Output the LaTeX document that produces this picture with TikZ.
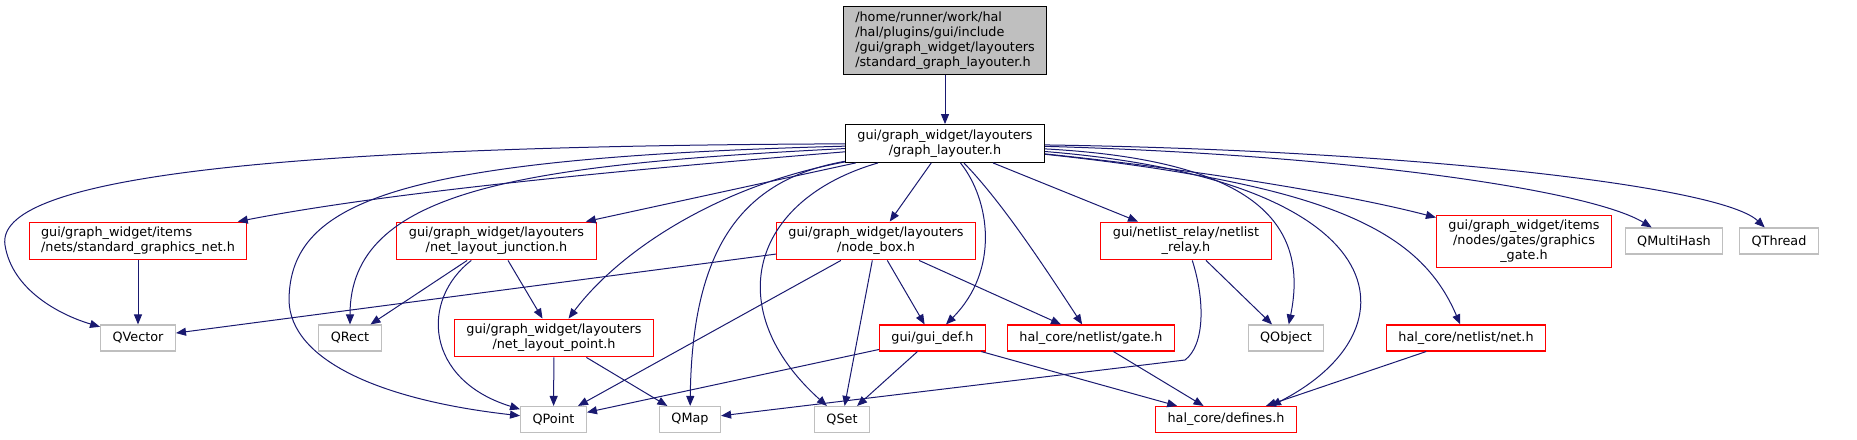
\documentclass[tikz,border=0pt]{standalone}
\usepackage{fontspec}
\setmainfont{DejaVu Sans}
\usetikzlibrary{arrows.meta}
\definecolor{edgeblue}{HTML}{191970}
\definecolor{boxgray}{HTML}{BFBFBF}
\newcommand{\dxfont}{\fontsize{12.8}{15}\selectfont}

\begin{document}
\begin{tikzpicture}[x=1pt, y=-1pt, >={Triangle[length=10pt,width=8pt]},
  file/.style={draw=red, line width=1.1pt, fill=white, align=center, inner xsep=12pt, inner ysep=5pt, minimum height=26pt, font=\dxfont},
  sys/.style={file, draw=boxgray},
  main/.style={file, draw=black, fill=boxgray, align=left},
  dep/.style={->, draw=edgeblue, line width=1pt}]
\useasboundingbox (0,0) rectangle (1857,439);
% header boxes
\node[main] (root) at (945,40.5) {/home/runner/work/hal\\/hal/plugins/gui/include\\/gui/graph\_widget/layouters\\/standard\_graph\_layouter.h};
\node[file, draw=black] (gl) at (945,143.5) {gui/graph\_widget/layouters\\/graph\_layouter.h};
\node[file, align=left] (sgn)   at (138,241)  {gui/graph\_widget/items\\/nets/standard\_graphics\_net.h};
\node[file] (nlj)   at (496.5,241) {gui/graph\_widget/layouters\\/net\_layout\_junction.h};
\node[file] (nbox)  at (876,241)  {gui/graph\_widget/layouters\\/node\_box.h};
\node[file] (relay) at (1186,241) {gui/netlist\_relay/netlist\\\_relay.h};
\node[file] (ggate) at (1524,241.5) {gui/graph\_widget/items\\/nodes/gates/graphics\\\_gate.h};
\node[file] (nlp)   at (554,338)  {gui/graph\_widget/layouters\\/net\_layout\_point.h};
\node[file] (guidef) at (932.5,338) {gui/gui\_def.h};
\node[file] (gate)  at (1091,338) {hal\_core/netlist/gate.h};
\node[file] (net)   at (1466,338) {hal\_core/netlist/net.h};
\node[file] (defines) at (1226,419.5) {hal\_core/defines.h};
% qt headers
\node[sys] (qmh)     at (1674,241)  {QMultiHash};
\node[sys] (qthread) at (1779,241)  {QThread};
\node[sys] (qvec)    at (138,338)   {QVector};
\node[sys] (qrect)   at (350,338)   {QRect};
\node[sys] (qobj)    at (1286,338)  {QObject};
\node[sys] (qpoint)  at (553.5,419.5) {QPoint};
\node[sys] (qmap)    at (690,419.5) {QMap};
\node[sys] (qset)    at (842,419.5) {QSet};

\draw[dep] (root) -- (gl);
% from graph_layouter.h
\draw[dep] (gl) .. controls (250,146) and (-5,180) .. (5,245) .. controls (12,290) and (60,315) .. (qvec);
\draw[dep] (gl) .. controls (650,168) and (400,190) .. (sgn);
\draw[dep] (gl) .. controls (400,158) and (290,200) .. (289,300) .. controls (290,360) and (380,400) .. (qpoint);
\draw[dep] (gl) .. controls (520,165) and (350,190) .. (qrect);
\draw[dep] (gl) -- (nlj);
\draw[dep] (gl) .. controls (720,185) and (620,250) .. (nlp);
\draw[dep] (gl) .. controls (740,180) and (692,250) .. (qmap);
\draw[dep] (gl) -- (nbox);
\draw[dep] (gl) .. controls (750,200) and (720,310) .. (qset);
\draw[dep] (gl) .. controls (990,200) and (1000,270) .. (guidef);
\draw[dep] (gl) .. controls (1000,200) and (1040,260) .. (gate);
\draw[dep] (gl) -- (relay);
\draw[dep] (gl) .. controls (1250,160) and (1310,220) .. (qobj);
\draw[dep] (gl) .. controls (1400,180) and (1420,330) .. ([xshift=45pt]defines.north);
\draw[dep] (gl) .. controls (1330,185) and (1420,230) .. (net);
\draw[dep] (gl) .. controls (1200,170) and (1350,195) .. ([yshift=24pt]ggate.west);
\draw[dep] (gl) .. controls (1350,155) and (1590,190) .. (qmh);
\draw[dep] (gl) .. controls (1400,150) and (1720,185) .. (qthread);
% second level
\draw[dep] (sgn) -- (qvec);
\draw[dep] (nlj) -- (qrect);
\draw[dep] (nlj) .. controls (420,300) and (425,380) .. (qpoint);
\draw[dep] (nlj) -- (nlp);
\draw[dep] (nlp) -- (qpoint);
\draw[dep] (nlp) -- (qmap);
\draw[dep] (nbox) -- (qvec);
\draw[dep] (nbox) -- (qpoint);
\draw[dep] (nbox) -- (guidef);
\draw[dep] (nbox) -- (gate);
\draw[dep] (nbox) -- (qset);
\draw[dep] (guidef) -- (qpoint);
\draw[dep] (guidef) -- (qset);
\draw[dep] (guidef) -- (defines);
\draw[dep] (gate) -- (defines);
\draw[dep] (relay) -- (qobj);
\draw[dep] (relay) .. controls (1205,300) and (1205,345) .. (1185,360) -- (qmap);
\draw[dep] (net) -- (defines);
\end{tikzpicture}
\end{document}
